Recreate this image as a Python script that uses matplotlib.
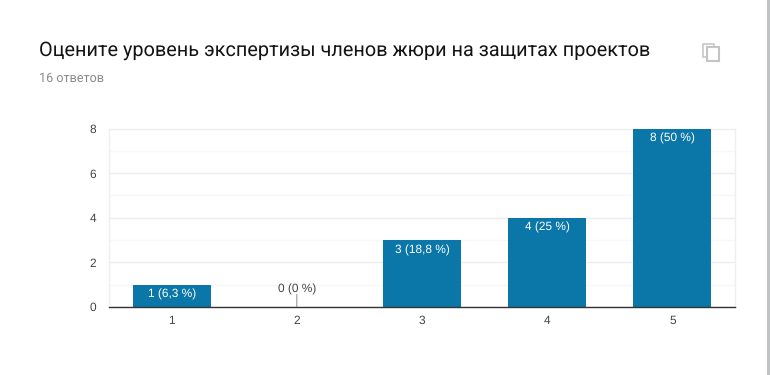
import matplotlib
matplotlib.use("Agg")
import matplotlib.pyplot as plt
from matplotlib.patches import Rectangle

plt.rcParams["text.hinting"] = "no_hinting"

categories = ["1", "2", "3", "4", "5"]
values = [1, 0, 3, 4, 8]
labels = ["1 (6,3 %)", "0 (0 %)", "3 (18,8 %)", "4 (25 %)", "8 (50 %)"]
yticks = [0, 2, 4, 6, 8]
yminor = [1, 3, 5, 7]
title = "Оцените уровень экспертизы членов жюри на защитах проектов"
subtitle = "16 ответов"

W, H = 770, 375
fig = plt.figure(figsize=(W / 100, H / 100), dpi=100, facecolor="white")
ax = fig.add_axes([109 / W, 1 - 307 / H, (735 - 109) / W, (307 - 128.5) / H])

x = list(range(len(categories)))
ax.bar(x, values, width=0.623, color="#0B76A8", zorder=3)
ax.set_xlim(-0.5, 4.5)
ax.set_ylim(0, 8)

ax.set_yticks(yticks)
ax.set_yticks(yminor, minor=True)
ax.set_xticks(x, categories)
ax.grid(axis="y", which="major", color="#EDEDED", lw=1, zorder=0)
ax.grid(axis="y", which="minor", color="#F7F7F7", lw=1, zorder=0)
ax.tick_params(axis="both", which="both", length=0)
ax.tick_params(axis="x", pad=6, labelsize=8.6, labelcolor="#444444")
ax.tick_params(axis="y", pad=9, labelsize=8.6, labelcolor="#444444")
for lab in ax.get_xticklabels() + ax.get_yticklabels():
    lab.set_family("Liberation Sans")

for s in ["top", "right", "left"]:
    ax.spines[s].set_color("#EFEFEF")
    ax.spines[s].set_linewidth(1)
ax.spines["bottom"].set_color("#333333")
ax.spines["bottom"].set_linewidth(1)
ax.spines["bottom"].set_zorder(5)

for xi, v, lab in zip(x, values, labels):
    if v > 0:
        ax.annotate(lab, (xi, v), xytext=(0, -3.2), textcoords="offset points",
                    ha="center", va="top", color="white", fontsize=8.6,
                    family="Liberation Sans", zorder=4)
    else:
        ax.annotate(lab, (xi, v), xytext=(0, 8.5), textcoords="offset points",
                    ha="center", va="bottom", color="#444444", fontsize=8.6,
                    family="Liberation Sans", zorder=4)
        ax.annotate("", (xi, v), xytext=(0, 9), textcoords="offset points",
                    arrowprops=dict(arrowstyle="-", color="#999999", lw=0.8,
                                    shrinkA=0, shrinkB=0), zorder=4)

fig.text(39 / W, 1 - 50 / H, title, fontsize=14.33, family="Roboto",
         color="#141414", ha="left", va="center")
fig.text(39 / W, 1 - 78.5 / H, subtitle, fontsize=9.1, family="Roboto",
         color="#8A8A8F", ha="left", va="center")


def rect(px, py, pw, ph, **kw):
    fig.add_artist(Rectangle((px / W, 1 - (py + ph) / H), pw / W, ph / H,
                             transform=fig.transFigure, **kw))


# copy icon
rect(703, 43.5, 11, 13, fill=False, ec="#C4C4C4", lw=1.1)
rect(706.5, 46.5, 12, 14.5, fc="white", ec="#C4C4C4", lw=1.5)
# page scrollbar edge
rect(767, 0, 3, H, fc="#BFC3C4", ec="none")

fig.savefig("out.png", dpi=100)
